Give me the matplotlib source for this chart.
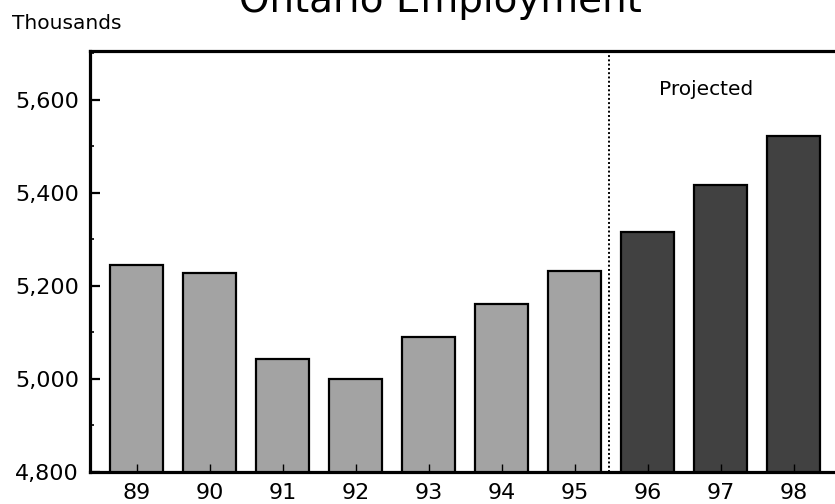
import numpy as np
import matplotlib
matplotlib.use('Agg')
import matplotlib.pyplot as plt
from matplotlib.ticker import MultipleLocator, FuncFormatter

# Ontario employment, thousands of persons
years = ['89', '90', '91', '92', '93', '94', '95', '96', '97', '98']
employment = [5245, 5228, 5043, 5000, 5090, 5161, 5232, 5315, 5416, 5523]
n_actual = 7   # 89-95 actual, 96-98 projected

plt.rcParams['font.family'] = ['DejaVu Sans']

fig = plt.figure(figsize=(8.35, 5.04), dpi=100)
ax = fig.add_axes([0.1078, 0.0635, 0.8988, 0.8353])

x = np.arange(len(years))
colors = ['#a3a3a3'] * n_actual + ['#414141'] * (len(years) - n_actual)
ax.bar(x, employment, width=0.73, color=colors, edgecolor='black', linewidth=1.6)

# split between actual and projected years
ax.axvline(n_actual - 0.53, color='black', linestyle=(0, (1, 1.2)), linewidth=1.4)
ax.text(7.8, 5610, 'Projected', ha='center', va='baseline', fontsize=14.5)

ax.set_xlim(-0.64, len(years) - 1 + 0.64)
ax.set_ylim(4800, 5705)
ax.set_xticks(x)
ax.set_xticklabels(years)
ax.yaxis.set_major_locator(MultipleLocator(200))
ax.yaxis.set_minor_locator(MultipleLocator(100))
ax.yaxis.set_major_formatter(FuncFormatter(lambda v, p: '{:,.0f}'.format(v)))

ax.tick_params(axis='y', which='major', direction='in', length=7, width=1.6,
               labelsize=16, pad=8)
ax.tick_params(axis='y', which='minor', direction='in', length=3, width=1.2)
ax.tick_params(axis='x', direction='in', length=6, width=1.0, labelsize=16, pad=8)

for side in ['left', 'bottom', 'top']:
    ax.spines[side].set_linewidth(2.3)
ax.spines['right'].set_visible(False)

fig.text(12 / 835, 1 - 29 / 504, 'Thousands', ha='left', va='baseline', fontsize=14.5)
fig.text(440 / 835, 1 - 12 / 504, 'Ontario Employment', ha='center', va='baseline',
         fontsize=28)

fig.savefig('out.png', dpi=100)
